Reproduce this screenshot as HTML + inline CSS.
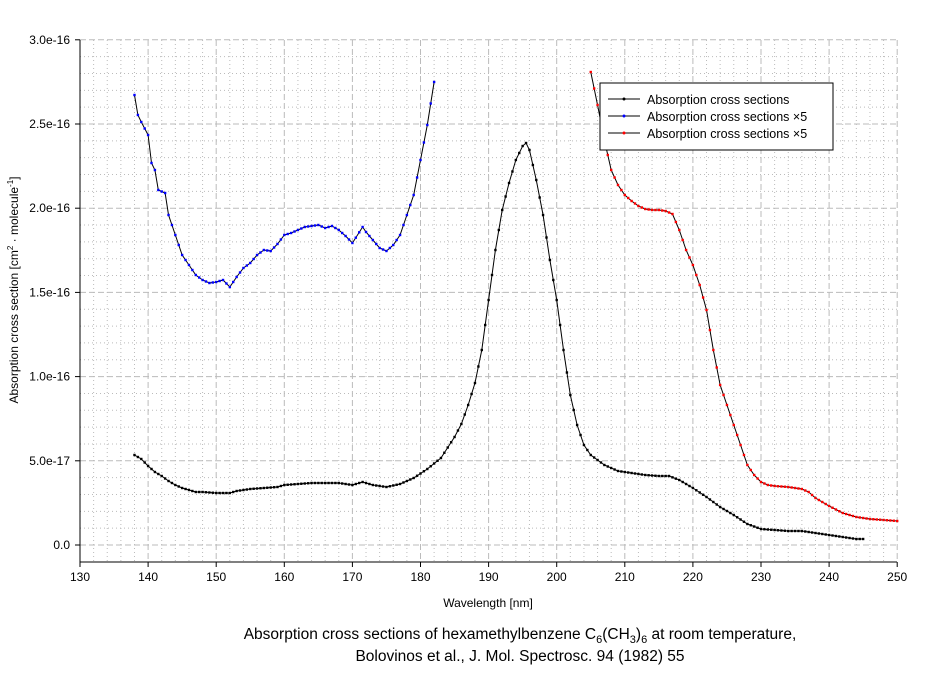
<!DOCTYPE html>
<html><head><meta charset="utf-8"><style>
body{margin:0;background:#fff;width:936px;height:668px;overflow:hidden;font-family:"Liberation Sans",Arial,sans-serif}
</style></head><body>
<svg id="s" width="936" height="668" xmlns="http://www.w3.org/2000/svg" font-family="Liberation Sans, Arial, sans-serif">
<g id="grid"></g>
<line x1="80" y1="40" x2="80" y2="562" stroke="#000"/>
<line x1="80" y1="562" x2="897" y2="562" stroke="#000"/>
<g id="ticks" font-size="12"></g>
<g id="data"></g>
<rect x="600" y="83" width="233" height="67" fill="#fff" stroke="#000"/>
<line x1="608" y1="99" x2="640" y2="99" stroke="#000"/><circle cx="624" cy="99" r="1.5" fill="#000"/>
<line x1="608" y1="116" x2="640" y2="116" stroke="#000"/><circle cx="624" cy="116" r="1.5" fill="#00f"/>
<line x1="608" y1="133" x2="640" y2="133" stroke="#000"/><circle cx="624" cy="133" r="1.5" fill="#f00"/>
<text x="647" y="104" font-size="12.5">Absorption cross sections</text>
<text x="647" y="121" font-size="12.5">Absorption cross sections ×5</text>
<text x="647" y="138" font-size="12.5">Absorption cross sections ×5</text>
<text transform="translate(18,290) rotate(-90)" text-anchor="middle" font-size="12">Absorption cross section [cm<tspan dy="-5" font-size="8">2</tspan><tspan dy="5"> · molecule</tspan><tspan dy="-5" font-size="8">-1</tspan><tspan dy="5">]</tspan></text>
<text x="488" y="607" text-anchor="middle" font-size="12">Wavelength [nm]</text>
<text x="520" y="639" text-anchor="middle" font-size="15.5">Absorption cross sections of hexamethylbenzene C<tspan dy="4" font-size="11">6</tspan><tspan dy="-4">(CH</tspan><tspan dy="4" font-size="11">3</tspan><tspan dy="-4">)</tspan><tspan dy="4" font-size="11">6</tspan><tspan dy="-4"> at room temperature,</tspan></text>
<text x="520" y="661" text-anchor="middle" font-size="15.5">Bolovinos et al., J. Mol. Spectrosc. 94 (1982) 55</text>
</svg>
<script>
const NS="http://www.w3.org/2000/svg";
const X=n=>80+6.81*(n-130);
function el(p,t,a){const e=document.createElementNS(NS,t);for(const k in a)e.setAttribute(k,a[k]);document.getElementById(p).appendChild(e);return e;}
for(let n=132;n<250;n+=2){if((n-130)%10)el("grid","line",{x1:X(n),x2:X(n),y1:40,y2:562,stroke:"#bbb","stroke-dasharray":"1,3"});}
for(let i=1;i<30;i++){if(i%5)el("grid","line",{x1:80,x2:897,y1:545-i*16.84,y2:545-i*16.84,stroke:"#bbb","stroke-dasharray":"1,3"});}
for(let n=140;n<=250;n+=10)el("grid","line",{x1:X(n),x2:X(n),y1:40,y2:562,stroke:"#bbb","stroke-dasharray":"6,3"});
for(let i=0;i<=6;i++)el("grid","line",{x1:80,x2:897,y1:545-i*84.2,y2:545-i*84.2,stroke:"#bbb","stroke-dasharray":"6,3"});
const yl=["0.0","5.0e-17","1.0e-16","1.5e-16","2.0e-16","2.5e-16","3.0e-16"];
yl.forEach((t,i)=>{const y=545-i*84.2;el("ticks","line",{x1:75,x2:80,y1:y,y2:y,stroke:"#000"});const e=el("ticks","text",{x:70,y:y+4,"text-anchor":"end"});e.textContent=t;});
for(let n=130;n<=250;n+=10){el("ticks","line",{x1:X(n),x2:X(n),y1:562,y2:567,stroke:"#000"});const e=el("ticks","text",{x:X(n),y:581,"text-anchor":"middle"});e.textContent=n;}
const black=[[138,455],[139,459],[140,466],[141,472],[142,476],[143,481],[144,485],[145,488],[146,490],[147,492],[148,492],[150,493],[152,493],[153,491],[155,489],[157,488],[159,487],[160,485],[162,484],[164,483],[166,483],[168,483],[170,485],[171.5,482],[173,485],[175,487],[177,484],[179,478],[181,469],[183,458],[185,437],[186,424],[187,405],[188,383],[189,350],[190,300],[191,250],[192,210],[193,183],[194,160],[195,146],[195.5,143],[196,150],[197,180],[198,215],[199,260],[200,300],[201,350],[202,395],[203,425],[204,445],[205,455],[207,465],[209,471],[211,473],[213,475],[215,476],[216.5,476],[218,480],[220,488],[222,497],[224,507],[226,515],[228,524],[230,529],[232,530],[234,531],[236,531],[238,533],[240,535],[242,537],[244,539],[245,539]];
const blue=[[138,95],[138.5,115],[139,122],[140,135],[140.5,163],[141,170],[141.5,190],[142.5,193],[143,215],[144,235],[145,255],[146,265],[147,275],[148,280],[149,283],[150,282],[151,280],[152,287],[153,277],[154,268],[155,263],[156,255],[157,250],[158,251],[159,244],[160,235],[161,233],[162,230],[163,227],[164,226],[165,225],[166,228],[167,226],[168,230],[169,236],[170,243],[171.5,227],[172,232],[173,240],[174,248],[175,251],[176,245],[177,235],[178,215],[179,195],[180,160],[181,125],[182,82]];
const red=[[205,72],[206,105],[207,140],[208,170],[209,185],[210,195],[211,201],[212,206],[213,209],[214,210],[215,210],[216,211],[217,214],[218,230],[219,250],[220,265],[221,285],[222,310],[223,350],[224,385],[225,405],[226,425],[227,445],[228,465],[229,475],[230,482],[231,485],[232,486],[234,487],[236,489],[237,492],[238,498],[240,506],[242,513],[244,517],[246,519],[248,520],[250,521]];
function draw(d,c){el("data","polyline",{points:d.map(p=>X(p[0])+","+p[1]).join(" "),fill:"none",stroke:"#000","stroke-width":1});
for(let i=0;i<d.length-1;i++){const [a,b]=[d[i],d[i+1]];const k=Math.max(1,Math.round((b[0]-a[0])/0.5));for(let j=0;j<k;j++){const t=j/k;el("data","rect",{x:X(a[0]+(b[0]-a[0])*t)-1.2,y:a[1]+(b[1]-a[1])*t-1.2,width:2.4,height:2.4,fill:c});}}
const l=d[d.length-1];el("data","rect",{x:X(l[0])-1.2,y:l[1]-1.2,width:2.4,height:2.4,fill:c});}
draw(black,"#000");draw(blue,"#00f");draw(red,"#f00");
</script>
</body></html>
